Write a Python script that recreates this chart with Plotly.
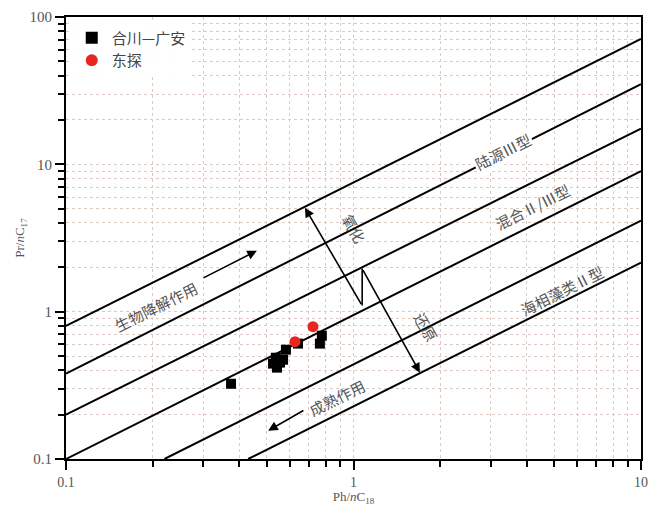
import plotly.graph_objects as go

# ---- data ----
hc_ph = [0.375, 0.582, 0.537, 0.525, 0.555, 0.569, 0.542, 0.641, 0.776, 0.764]
hc_pr = [0.324, 0.552, 0.487, 0.444, 0.451, 0.472, 0.417, 0.607, 0.687, 0.607]
dt_ph = [0.626, 0.723]
dt_pr = [0.626, 0.791]

# reference boundary lines: (x0, y0, x1, y1)
line_x0 = [0.1, 0.1, 0.1, 0.1, 0.22, 0.43]
line_y0 = [0.8, 0.38, 0.2, 0.1, 0.1, 0.1]
line_x1 = [10, 10, 10, 10, 10, 10]
line_y1 = [71, 35, 17.5, 9.0, 4.15, 2.15]

# connector between oxidation / reduction arrows
conn_x = [1.072, 1.072]
conn_y = [1.10, 1.96]

x_ticks = [0.1, 1, 10]
x_ticktext = ["0.1", "1", "10"]
y_ticks = [0.1, 1, 10, 100]
y_ticktext = ["0.1", "1", "10", "100"]

SERIF = "Liberation Serif, Noto Sans CJK SC, serif"
CJK = "Noto Sans CJK SC, sans-serif"
GRID = "#dccbc5"

fig = go.Figure()
for i in range(len(line_x0)):
    fig.add_trace(go.Scatter(x=[line_x0[i], line_x1[i]], y=[line_y0[i], line_y1[i]],
                             mode="lines", line=dict(color="black", width=2),
                             showlegend=False, hoverinfo="skip"))
fig.add_trace(go.Scatter(x=conn_x, y=conn_y, mode="lines", line=dict(color="black", width=1.6),
                         showlegend=False, hoverinfo="skip"))

fig.add_trace(go.Scatter(x=hc_ph, y=hc_pr, mode="markers", name="合川—广安",
                         marker=dict(symbol="square", color="black", size=10)))
fig.add_trace(go.Scatter(x=dt_ph, y=dt_pr, mode="markers", name="东探",
                         marker=dict(symbol="circle", color="#e8261f", size=11)))

def minor_vals(lo, hi):
    out = []
    for e in range(lo, hi):
        for m in range(2, 10):
            out.append(m * 10 ** e)
    return out

axis_common = dict(
    type="log", showline=True, linecolor="black", linewidth=2, mirror=True,
    ticks="outside", ticklen=9, tickwidth=2, tickcolor="black",
    showgrid=True, gridcolor=GRID, griddash="dot", gridwidth=1,
    zeroline=False, automargin=False, ticklabeloverflow="allow",
)

fig.update_xaxes(**axis_common, range=[-1, 1], tickmode="array", tickvals=x_ticks, ticktext=x_ticktext,
                 tickfont=dict(family=SERIF, size=14, color="#555555"),
                 minor=dict(tickmode="array", tickvals=minor_vals(-1, 1), ticks="outside", ticklen=6,
                            tickwidth=2, tickcolor="black", showgrid=True, gridcolor=GRID, griddash="dot"),
                 title=dict(text="Ph/<i>n</i>C<sub>18</sub>", font=dict(family=SERIF, size=13, color="#555555"),
                            standoff=6))
fig.update_yaxes(**axis_common, range=[-1, 2], tickmode="array", tickvals=y_ticks, ticktext=y_ticktext,
                 tickfont=dict(family=SERIF, size=15, color="#555555"),
                 minor=dict(tickmode="array", tickvals=minor_vals(-1, 2), ticks="outside", ticklen=6,
                            tickwidth=2, tickcolor="black", showgrid=True, gridcolor=GRID, griddash="dot"),
                 title=dict(text="Pr/<i>n</i>C<sub>17</sub>", font=dict(family=SERIF, size=13, color="#555555"),
                            standoff=2))

TXT = dict(family=CJK, size=15, color="#555555")
ANG = -26.5
labels = [
    ("生物降解作用", -0.687, 0.034, ANG, None),
    ("陆源Ⅲ型", 0.520, 1.086, ANG, "white"),
    ("混合Ⅱ/Ⅲ型", 0.624, 0.713, ANG, None),
    ("海相藻类Ⅱ型", 0.725, 0.143, ANG, None),
    ("成熟作用", -0.057, -0.584, ANG, None),
    ("氧化", 0.002, 0.563, 60, None),
    ("还原", 0.252, -0.102, 60, None),
]
for t, lx, ly, ang, bg in labels:
    kw = dict(bgcolor=bg) if bg else {}
    fig.add_annotation(x=lx, y=ly, xref="x", yref="y", text=t, showarrow=False,
                       textangle=ang, font=TXT, **kw)

arrows = [
    # (head x, head y, tail x, tail y) in log10 units
    (-0.336, 0.414, -0.527, 0.224),
    (-0.297, -0.808, -0.169, -0.665),
    (-0.169, 0.706, 0.030, 0.041),
    (0.231, -0.414, 0.030, 0.292),
]
for hx, hy, tx, ty in arrows:
    fig.add_annotation(x=hx, y=hy, ax=tx, ay=ty, xref="x", yref="y", axref="x", ayref="y",
                       text="", showarrow=True, arrowhead=2, arrowsize=1.2, arrowwidth=1.6,
                       arrowcolor="black", standoff=0, startstandoff=0)

fig.update_layout(
    width=648, height=506,
    margin=dict(l=66, r=7, t=17, b=47),
    paper_bgcolor="white", plot_bgcolor="white",
    legend=dict(x=0.01, y=0.99, xanchor="left", yanchor="top", bgcolor="rgba(255,255,255,0.95)",
                font=dict(family=CJK, size=15, color="#444444"), itemsizing="constant",
                tracegroupgap=2),
    showlegend=True,
)

fig.write_html("out.html",
               config={"displayModeBar": False},
               post_script="document.body.style.margin='0';"
                           "document.body.style.overflow='hidden';"
                           "document.documentElement.style.overflow='hidden';")
